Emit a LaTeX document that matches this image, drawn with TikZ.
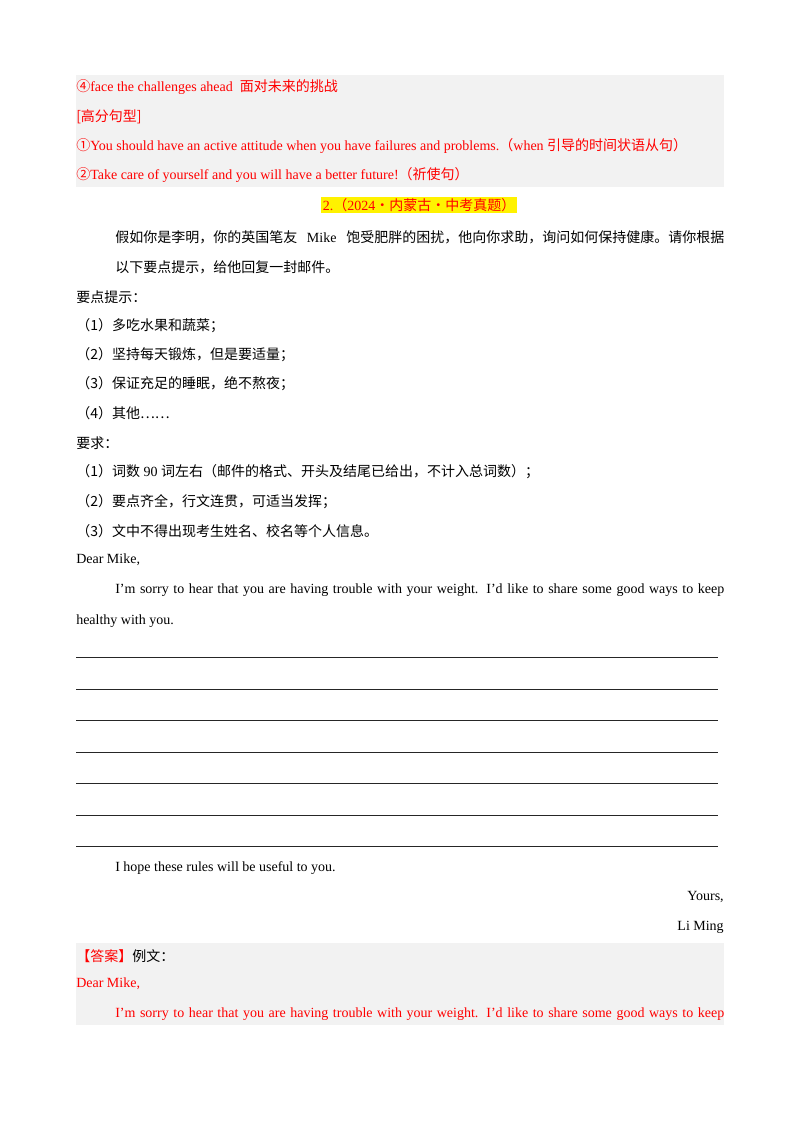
\documentclass[tikz,border=0pt]{standalone}
\usepackage{fontspec}
\setmainfont{Liberation Serif}
\newfontfamily\zhf{Noto Sans CJK SC}
\newcommand{\zh}[1]{{\zhf #1}}
\newcommand{\fullw}[1]{\makebox[456.75pt][s]{#1}}
\begin{document}
\begin{tikzpicture}[x=0.75pt,y=-0.75pt,
  t/.style={anchor=west,inner sep=0pt,font=\fontsize{10.5}{12}\selectfont},
  r/.style={t,anchor=east},
  red/.style={text=red},
  ln/.style={draw=black!85,line width=0.45pt}]
\definecolor{bandgray}{HTML}{F2F2F2}
\path[use as bounding box,fill=white] (0,0) rectangle (800,1132);
\fill[bandgray] (76,75) rectangle (724,187);
\fill[bandgray] (76,943) rectangle (724,1025);
\node[t,red] (a1) at (76,87) {\zh{④}face the challenges ahead\ \ \zh{面对未来的挑战}};
\node[t,red] (a2) at (76,117) {\zh{[高分句型]}};
\node[t,red] (a3) at (76,146) {\zh{①}You should have an active attitude when you have failures and problems.\zh{（}when \zh{引导的时间状语从句）}};
\node[t,red] (a4) at (76,175) {\zh{②}Take care of yourself and you will have a better future!\zh{（祈使句）}};
\node[t,red,fill=yellow,anchor=center,inner sep=1pt] (h) at (419,205) {2.\zh{（}2024\zh{·内蒙古·中考真题）}};
\node[t] (p1) at (115,237) {\fullw{\zh{假如你是李明，你的英国笔友} Mike \zh{饱受肥胖的困扰，他向你求助，询问如何保持健康。请你根据}}};
\node[t] (p2) at (115,267) {\zh{以下要点提示，给他回复一封邮件。}};
\node[t] (p3) at (76,297) {\zh{要点提示：}};
\node[t] (p4) at (76,326) {\zh{（1）多吃水果和蔬菜；}};
\node[t] (p5) at (76,355) {\zh{（2）坚持每天锻炼，但是要适量；}};
\node[t] (p6) at (76,384) {\zh{（3）保证充足的睡眠，绝不熬夜；}};
\node[t] (p7) at (76,413) {\zh{（4）其他……}};
\node[t] (p8) at (76,443) {\zh{要求：}};
\node[t] (p9) at (76,472) {\zh{（1）词数} 90 \zh{词左右（邮件的格式、开头及结尾已给出，不计入总词数）；}};
\node[t] (p10) at (76,502) {\zh{（2）要点齐全，行文连贯，可适当发挥；}};
\node[t] (p11) at (76,531) {\zh{（3）文中不得出现考生姓名、校名等个人信息。}};
\node[t] (d1) at (76,560) {Dear Mike,};
\node[t] (d2) at (115,590) {\fullw{I'm sorry to hear that you are having trouble with your weight. I'd like to share some good ways to keep}};
\node[t] (d3) at (76,621) {healthy with you.};
\foreach \y in {657,689,720,752,783,815,846} \draw[ln] (76,\y) -- (718,\y);
\node[t] (e1) at (115,868) {I hope these rules will be useful to you.};
\node[r] (e2) at (724,897) {Yours,};
\node[r] (e3) at (724,927) {Li Ming};
\node[t] (f1) at (76,956) {\textcolor{red}{\zh{【答案】}}\zh{例文：}};
\node[t,red] (f2) at (76,984) {Dear Mike,};
\node[t,red] (f3) at (115,1014) {\fullw{I'm sorry to hear that you are having trouble with your weight. I'd like to share some good ways to keep}};
\end{tikzpicture}
\end{document}
